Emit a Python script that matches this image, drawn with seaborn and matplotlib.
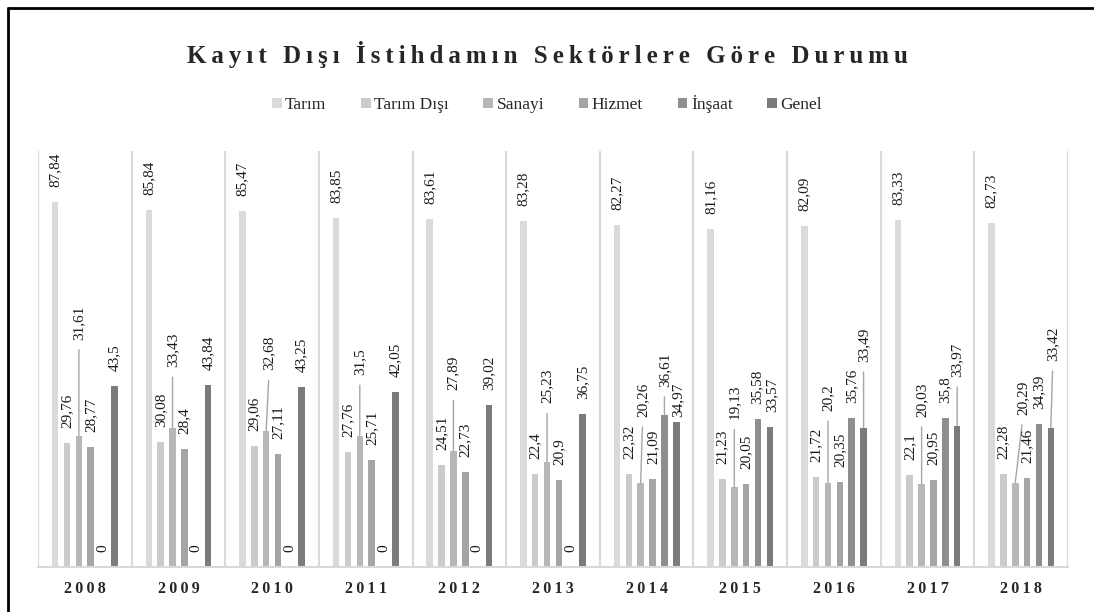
import numpy as np
import pandas as pd
import matplotlib.pyplot as plt
import seaborn as sns
from matplotlib.lines import Line2D

# chart data
years = ["2008", "2009", "2010", "2011", "2012", "2013", "2014", "2015", "2016", "2017", "2018"]
sectors = ["Tarım", "Tarım Dışı", "Sanayi", "Hizmet", "İnşaat", "Genel"]
tarim = [87.84, 85.84, 85.47, 83.85, 83.61, 83.28, 82.27, 81.16, 82.09, 83.33, 82.73]
tarim_disi = [29.76, 30.08, 29.06, 27.76, 24.51, 22.4, 22.32, 21.23, 21.72, 22.1, 22.28]
sanayi = [31.61, 33.43, 32.68, 31.5, 27.89, 25.23, 20.26, 19.13, 20.2, 20.03, 20.29]
hizmet = [28.77, 28.4, 27.11, 25.71, 22.73, 20.9, 21.09, 20.05, 20.35, 20.95, 21.46]
insaat = [0, 0, 0, 0, 0, 0, 36.61, 35.58, 35.76, 35.8, 34.39]
genel = [43.5, 43.84, 43.25, 42.05, 39.02, 36.75, 34.97, 33.57, 33.49, 33.97, 33.42]
series = [tarim, tarim_disi, sanayi, hizmet, insaat, genel]

colors = ["#dadada", "#cbcbcb", "#b7b7b7", "#a5a5a5", "#8e8e8e", "#7b7b7b"]

# label nudges in pixels (dx, dy) for labels that Excel moved off the bar
label_shift = {
    ("2008", "Sanayi"): (0, 81), ("2009", "Sanayi"): (0, 46), ("2010", "Sanayi"): (3, 46),
    ("2011", "Sanayi"): (0, 46), ("2012", "Sanayi"): (0, 46), ("2013", "Sanayi"): (0, 44),
    ("2014", "Sanayi"): (2, 51), ("2014", "İnşaat"): (0, 13), ("2014", "Genel"): (2, -10),
    ("2015", "Sanayi"): (0, 53), ("2015", "İnşaat"): (-1, 0), ("2015", "Genel"): (2, 0),
    ("2016", "Sanayi"): (0, 57), ("2016", "Genel"): (0, 51),
    ("2017", "Sanayi"): (0, 52), ("2017", "Genel"): (0, 34),
    ("2018", "Sanayi"): (8, 53), ("2018", "Genel"): (2, 52),
}

df = pd.DataFrame({
    "Yıl": years * len(sectors),
    "Sektör": np.repeat(sectors, len(years)),
    "Oran": sum(series, []),
})

sns.set_theme(style="white")
plt.rcParams["font.family"] = ["Liberation Serif", "DejaVu Serif"]

fig = plt.figure(figsize=(10.94, 6.12), dpi=100)
ax = fig.add_axes([38 / 1094, 45 / 612, 1030 / 1094, 416 / 612])

sns.barplot(data=df, x="Yıl", y="Oran", hue="Sektör", hue_order=sectors,
            palette=colors, saturation=1, width=0.76, gap=0.45,
            linewidth=0, errorbar=None, ax=ax)

ax.set_xlim(-0.5, 10.5)
ax.set_ylim(0, 100)
ax.set_yticks([])
ax.set_xlabel("")
ax.set_ylabel("")
for s in ["left", "top", "right"]:
    ax.spines[s].set_visible(False)
ax.spines["bottom"].set_color("#d9d9d9")
ax.spines["bottom"].set_linewidth(1.5)

ax.set_xticks(range(len(years)))
ax.set_xticklabels(["\u2009".join(y) for y in years], fontweight="bold", fontsize=11.5)
ax.set_xticks(np.arange(-0.5, len(years), 1), minor=True)
ax.tick_params(axis="x", which="both", length=0, pad=10)
ax.grid(False)
ax.grid(True, which="minor", axis="x", color="#d9d9d9", lw=1.5)
for gl in ax.get_xgridlines():
    gl.set_clip_on(False)

# data labels
for sector, vals, bars in zip(sectors, series, ax.containers):
    for year, v, bar in zip(years, vals, bars):
        xc = bar.get_x() + bar.get_width() / 2
        dx, dy = label_shift.get((year, sector), (0, 0))
        kw = {}
        if dy > 0:
            kw["arrowprops"] = dict(arrowstyle="-", color="#a6a6a6", lw=1,
                                    shrinkA=5, shrinkB=0, relpos=(0.5, 0))
        ax.annotate(f"{v:g}".replace(".", ","), (xc, v), xytext=(dx, 15 + dy),
                    textcoords="offset pixels", rotation=90, ha="center",
                    va="bottom", fontsize=11, color="#1a1a1a", **kw)

# legend across the top
leg = ax.get_legend()
handles = leg.legend_handles
labels = [t.get_text() for t in leg.get_texts()]
leg.remove()
fig.legend(handles, labels, loc="center", bbox_to_anchor=(0.5, 1 - 104 / 612),
           ncol=6, frameon=False, fontsize=12.5, handlelength=0.55,
           handleheight=0.55, handletextpad=0.2, columnspacing=2.0)

title = "Kayıt Dışı İstihdamın Sektörlere Göre Durumu"
fig.text(0.5, 1 - 55 / 612, "\u2009".join(title), ha="center", va="center",
         fontsize=18, fontweight="bold")

# partial black frame
fig.add_artist(Line2D([8 / 1094, 8 / 1094], [0, 1 - 8 / 612], transform=fig.transFigure, color="black", lw=2))
fig.add_artist(Line2D([8 / 1094, 1], [1 - 8 / 612, 1 - 8 / 612], transform=fig.transFigure, color="black", lw=2))

fig.savefig("out.png", dpi=100)
